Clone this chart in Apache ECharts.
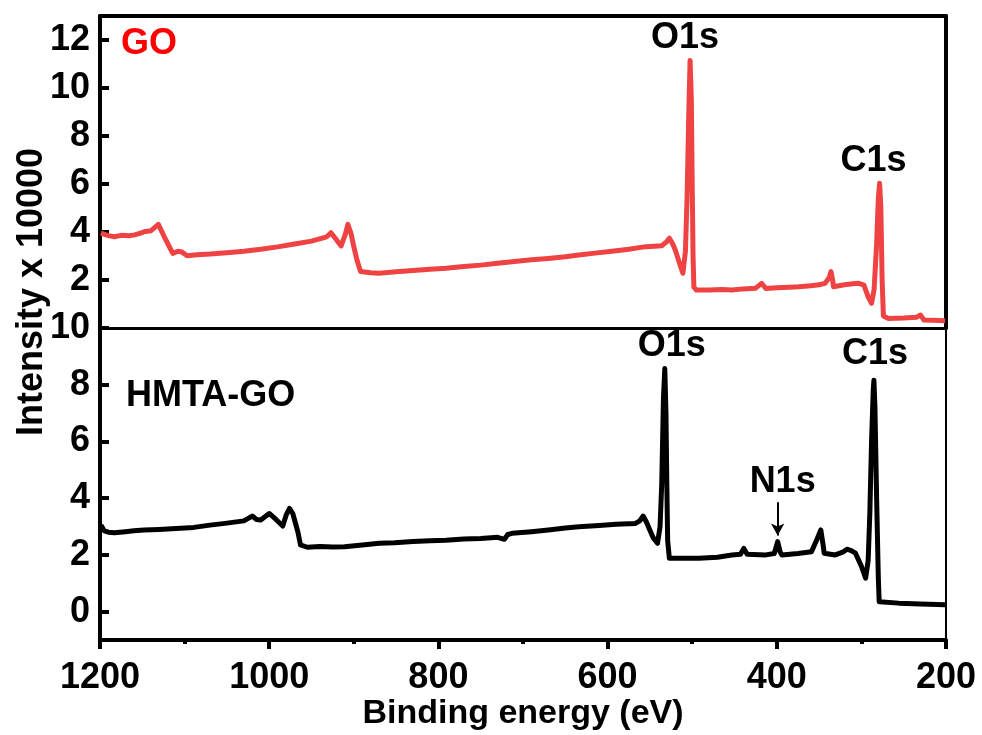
<!DOCTYPE html>
<html>
<head>
<meta charset="utf-8">
<script src="https://cdn.jsdelivr.net/npm/echarts@6/dist/echarts.min.js"></script>
<style>
  html, body { margin: 0; padding: 0; background: #fff; }
  #main { width: 982px; height: 735px; }
</style>
</head>
<body>
<div id="main"></div>
<script>
// binding energy (eV) and intensity (x 10000)
var goEnergy = [1199,1197,1190,1183,1175,1166,1159,1152,1148,1140,1131,1124,1119,1114,1108,1104,1097,1085,1070,1050,1030,1010,990,970,950,932,927,921,915,910,907,903,900,896,892,880,870,850,830,810,791,770,750,730,713,690,670,650,634,615,595,575,555,545,536,530,527,523,520,515,511,508,506,504,502.5,501,500,499,498,495,480,465,453,440,425,418,413,400,385,374,360,350,343,338,336,334,333,320,310,303,297,292,288,285,282,280,278.5,277,275.5,274,268,250,235,230,226,215,201];
var goIntensity = [3.95,3.88,3.85,3.80,3.86,3.84,3.88,3.95,4.01,4.05,4.32,3.80,3.45,3.11,3.20,3.18,3.01,3.05,3.08,3.14,3.20,3.28,3.38,3.50,3.62,3.80,3.97,3.70,3.42,3.90,4.32,3.90,3.39,2.80,2.35,2.30,2.28,2.34,2.40,2.45,2.49,2.56,2.62,2.70,2.76,2.84,2.90,2.97,3.04,3.12,3.20,3.28,3.39,3.41,3.43,3.60,3.74,3.50,3.25,2.70,2.28,3.20,5.50,9.00,11.15,9.50,6.00,3.00,1.70,1.58,1.58,1.60,1.58,1.63,1.66,1.86,1.65,1.68,1.70,1.72,1.76,1.80,1.86,2.10,2.35,2.00,1.72,1.80,1.84,1.86,1.79,1.30,1.03,1.60,3.50,5.40,6.03,5.00,2.00,0.50,0.40,0.42,0.45,0.54,0.33,0.32,0.30];

var hmEnergy = [1199,1195,1190,1183,1170,1160,1148,1130,1110,1089,1070,1050,1030,1020,1015,1010,1000,992,984,980,976,972,970,966,963,955,940,925,911,890,870,852,830,810,791,770,750,730,722,718,713,690,670,650,634,610,590,567,562,558,554,551,546,541,538,536,534,532.4,531,530,529,527,510,492,470,453,443,439,435,433,413,403,399,396,394,375,359,353,348,345,344,331,322,317,312,307,300,295,292,290,288,286,285.2,284,282,280,279,277,256,230,201];
var hmIntensity = [3.05,2.85,2.80,2.78,2.82,2.85,2.88,2.90,2.93,2.97,3.05,3.12,3.20,3.37,3.25,3.23,3.46,3.25,3.02,3.40,3.64,3.45,3.23,2.80,2.35,2.27,2.30,2.28,2.29,2.35,2.41,2.43,2.47,2.50,2.52,2.56,2.58,2.62,2.55,2.72,2.76,2.82,2.88,2.95,2.99,3.04,3.08,3.11,3.20,3.37,3.15,2.94,2.60,2.41,3.00,4.50,7.50,8.57,7.00,4.50,2.50,1.88,1.88,1.88,1.92,2.00,2.02,2.23,2.02,1.96,2.00,2.05,2.47,2.10,2.00,2.05,2.11,2.52,2.88,2.30,2.06,2.00,2.10,2.20,2.15,2.06,1.60,1.18,1.80,3.50,6.00,7.80,8.16,7.20,4.00,1.20,0.35,0.30,0.30,0.27,0.24];

var xTicks = [1200, 1000, 800, 600, 400, 200];
var goTicks = [0, 2, 4, 6, 8, 10, 12];
var hmTicks = [0, 2, 4, 6, 8, 10];

function pairs(xs, ys) {
  var out = [];
  for (var i = 0; i < xs.length; i++) out.push([xs[i], ys[i]]);
  return out;
}

var FONT = 'Liberation Sans, Arial, sans-serif';
var lbl = { fontFamily: FONT, fontWeight: 'bold', fontSize: 36, color: '#000',
            formatter: function (v) { return String(v); } };
var RED = '#ef4343';

function peak(text, coord, offset, dist) {
  return {
    coord: coord, symbolSize: 0,
    label: { show: true, formatter: text, position: 'top', distance: dist || 4, offset: offset || [0, 0],
             fontFamily: FONT, fontWeight: 'bold', fontSize: 36, color: '#000' }
  };
}

var myChart = echarts.init(document.getElementById('main'));
var option = {
  animation: false,
  backgroundColor: '#fff',
  grid: [
    { left: 100, right: 36, top: 16, height: 312 },
    { left: 100, right: 36, top: 328, height: 312 }
  ],
  xAxis: [
    { gridIndex: 0, type: 'value', min: 200, max: 1200, inverse: true, position: 'bottom',
      axisLine: { onZero: false, lineStyle: { color: '#000', width: 3 } }, axisTick: { show: false },
      axisLabel: { show: false }, splitLine: { show: false } },
    { gridIndex: 0, type: 'value', min: 200, max: 1200, inverse: true, position: 'top',
      axisLine: { onZero: false, lineStyle: { color: '#000', width: 4 } }, axisTick: { show: false },
      axisLabel: { show: false }, splitLine: { show: false } },
    { gridIndex: 1, type: 'value', min: 200, max: 1200, interval: 200, inverse: true, position: 'bottom',
      axisLine: { onZero: false, lineStyle: { color: '#000', width: 4 } },
      axisTick: { show: true, length: 9, lineStyle: { color: '#000', width: 4 } },
      minorTick: { show: true, splitNumber: 2, length: 4, lineStyle: { color: '#000', width: 4 } },
      axisLabel: Object.assign({ margin: 20, customValues: xTicks }, lbl),
      splitLine: { show: false },
      name: 'Binding energy (eV)', nameLocation: 'middle', nameGap: 56,
      nameTextStyle: { fontFamily: FONT, fontWeight: 'bold', fontSize: 34, color: '#000' } }
  ],
  yAxis: [
    { gridIndex: 0, type: 'value', min: 0, max: 13,
      axisLine: { show: true, onZero: false, lineStyle: { color: '#000', width: 4 } },
      axisTick: { show: true, inside: true, length: 9, customValues: goTicks, lineStyle: { color: '#000', width: 4 } },
      axisLabel: Object.assign({ margin: 10, customValues: goTicks.slice(1) }, lbl),
      splitLine: { show: false } },
    { gridIndex: 0, type: 'value', min: 0, max: 13, position: 'right',
      axisLine: { show: true, onZero: false, lineStyle: { color: '#000', width: 4 } },
      axisTick: { show: false }, axisLabel: { show: false }, splitLine: { show: false } },
    { gridIndex: 1, type: 'value', min: -1, max: 10,
      axisLine: { show: true, onZero: false, lineStyle: { color: '#000', width: 4 } },
      axisTick: { show: true, inside: true, length: 9, customValues: hmTicks, lineStyle: { color: '#000', width: 4 } },
      axisLabel: Object.assign({ margin: 10, customValues: hmTicks }, lbl),
      splitLine: { show: false } },
    { gridIndex: 1, type: 'value', min: -1, max: 10, position: 'right',
      axisLine: { show: true, onZero: false, lineStyle: { color: '#000', width: 2 } },
      axisTick: { show: false }, axisLabel: { show: false }, splitLine: { show: false } }
  ],
  graphic: [
    { type: 'text', x: 32, y: 292, rotation: Math.PI / 2,
      style: { text: 'Intensity x 10000', textAlign: 'center', textVerticalAlign: 'middle',
               font: 'bold 36px ' + FONT, fill: '#000' } },
    { type: 'text', left: 121, top: 26,
      style: { text: 'GO', font: 'bold 36px ' + FONT, fill: '#f00' } },
    { type: 'text', left: 126, top: 378,
      style: { text: 'HMTA-GO', font: 'bold 36px ' + FONT, fill: '#000' } }
  ],
  series: [
    { name: 'GO', type: 'line', xAxisIndex: 0, yAxisIndex: 0, showSymbol: false, symbol: 'none',
      data: pairs(goEnergy, goIntensity),
      lineStyle: { color: RED, width: 5, join: 'round' },
      markPoint: { silent: true, data: [ peak('O1s', [502.5, 11.15], [-5, 0], 4), peak('C1s', [278.5, 6.03], [-6, 0], 4) ] } },
    { name: 'HMTA-GO', type: 'line', xAxisIndex: 2, yAxisIndex: 2, showSymbol: false, symbol: 'none',
      data: pairs(hmEnergy, hmIntensity),
      lineStyle: { color: '#000', width: 5, join: 'round' },
      markPoint: { silent: true, data: [ peak('O1s', [532.4, 8.57], [7, 0], 4), peak('C1s', [285.2, 8.16], [1, 0], 8),
                                         peak('N1s', [399, 3.86], [5, 0], 2) ] },
      markLine: { silent: true, symbol: ['none', 'arrow'], symbolSize: [10, 12],
                  label: { show: false }, lineStyle: { color: '#000', width: 2, type: 'solid' },
                  data: [ [ { coord: [399, 3.86] }, { coord: [399, 2.68] } ] ] } }
  ]
};
myChart.setOption(option);
</script>
</body>
</html>
